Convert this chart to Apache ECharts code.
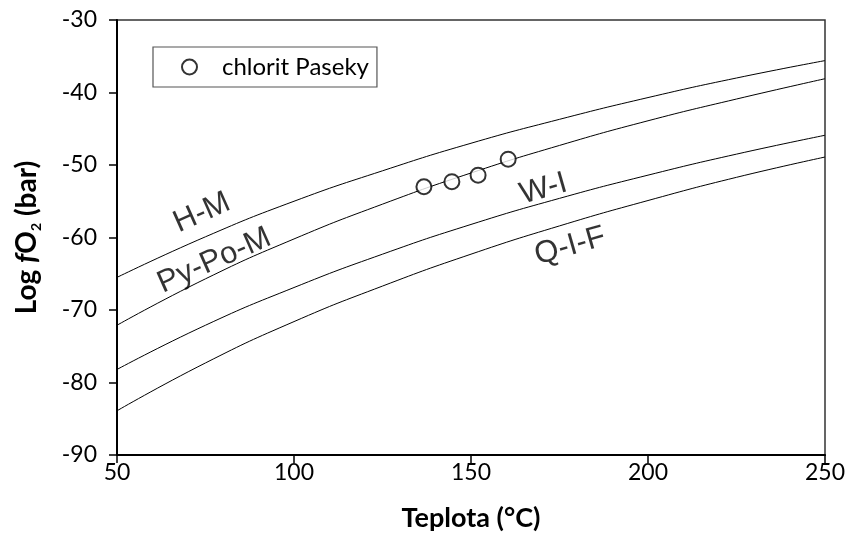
<!DOCTYPE html>
<html>
<head>
<meta charset="utf-8">
<script src="https://cdn.jsdelivr.net/npm/echarts@6/dist/echarts.min.js"></script>
<style>html,body{margin:0;padding:0;background:#fff}#c{width:849px;height:540px}</style>
</head>
<body>
<div id="c"></div>
<script>
var temps = [50, 75, 100, 125, 150, 175, 200, 225, 250];
var hm    = [-65.5, -59.9, -55.0, -50.8, -47.0, -43.7, -40.7, -38.0, -35.6];
var pypom = [-72.1, -65.7, -60.2, -55.4, -51.1, -47.3, -43.9, -40.9, -38.1];
var wi    = [-78.2, -72.1, -66.9, -62.3, -58.2, -54.6, -51.4, -48.5, -45.9];
var qif   = [-83.9, -77.3, -71.6, -66.7, -62.3, -58.4, -54.9, -51.7, -48.9];
var chlT  = [136.7, 144.6, 152.0, 160.5];
var chlF  = [-53.0, -52.3, -51.4, -49.2];
var curveLabels = ['H-M', 'Py-Po-M', 'W-I', 'Q-I-F'];
var labelT = [74, 77.5, 170.5, 178];
var labelF = [-56.6, -63.2, -53.3, -61.2];
var labelRot = [24, 24, 16, 16];
var xTicks = [50, 100, 150, 200, 250];
var yTicks = [-90, -80, -70, -60, -50, -40, -30];

function pairs(xs, ys){ return xs.map(function(x,i){ return [x, ys[i]]; }); }
function curve(name, ys){
  return { name: name, type: 'line', data: pairs(temps, ys), smooth: true, symbol: 'none',
    lineStyle: { color: '#000', width: 1 }, silent: true, z: 2 };
}
var chart = echarts.init(document.getElementById('c'));
chart.setOption({
  animation: false,
  backgroundColor: '#fff',
  grid: { left: 117, right: 24, top: 20, bottom: 85, show: true, borderColor: '#333', borderWidth: 1.5 },
  legend: {
    data: [{ name: 'chlorit Paseky', icon: 'circle' }],
    left: 153, top: 47, orient: 'horizontal',
    borderColor: '#555', borderWidth: 1.2, padding: [8, 8, 8, 28],
    itemWidth: 15, itemHeight: 15, itemGap: 10,
    textStyle: { fontFamily: 'Lato', fontSize: 24, color: '#000', padding: [0,0,0,20] }
  },
  xAxis: {
    type: 'value', min: 50, max: 250, interval: 50,
    name: 'Teplota (°C)', nameLocation: 'middle', nameGap: 50,
    nameTextStyle: { fontFamily: 'Lato', fontWeight: 'bold', fontSize: 27, color: '#000' },
    axisLine: { show: true, onZero: false, lineStyle: { color: '#000', width: 2 } },
    axisTick: { show: true, inside: false, length: 8, lineStyle: { color: '#000', width: 1.5 } },
    axisLabel: { fontFamily: 'Lato', fontSize: 23, color: '#000', margin: 6,
      formatter: function(v){ return xTicks.indexOf(v) >= 0 ? String(v) : ''; } },
    splitLine: { show: false }
  },
  yAxis: {
    type: 'value', min: -90, max: -30, interval: 10,
    name: '{b|Log }{i|f}{b|O}{s|2}{b| (bar)}', nameLocation: 'middle', nameGap: 74, nameRotate: 90,
    nameTextStyle: { rich: {
      b: { fontFamily: 'Lato', fontWeight: 'bold', fontSize: 28, color: '#000', lineHeight: 32 },
      i: { fontFamily: 'Lato', fontWeight: 'bold', fontStyle: 'italic', fontSize: 28, color: '#000', lineHeight: 32 },
      s: { fontFamily: 'Lato', fontWeight: 'bold', fontSize: 14, color: '#000', lineHeight: 32, verticalAlign: 'bottom', padding: [10,0,0,0] }
    } },
    axisLine: { show: true, onZero: false, lineStyle: { color: '#000', width: 2 } },
    axisTick: { show: true, inside: false, length: 8, lineStyle: { color: '#000', width: 1.5 } },
    axisLabel: { fontFamily: 'Lato', fontSize: 23, color: '#000', margin: 20,
      formatter: function(v){ return yTicks.indexOf(v) >= 0 ? String(v) : ''; } },
    splitLine: { show: false }
  },
  series: [
    curve('H-M', hm), curve('Py-Po-M', pypom), curve('W-I', wi), curve('Q-I-F', qif),
    { name: 'chlorit Paseky', type: 'scatter', data: pairs(chlT, chlF), symbol: 'circle', symbolSize: 15,
      itemStyle: { color: '#fff', borderColor: '#000', borderWidth: 2 }, z: 5 },
    { name: 'labels', type: 'scatter', symbolSize: 0, silent: true, z: 6,
      data: curveLabels.map(function(n,i){ return { name: n, value: [labelT[i], labelF[i]],
        label: { show: true, position: 'inside', rotate: labelRot[i], formatter: '{b}',
          fontFamily: 'Liberation Sans', fontSize: 31, color: '#000' } }; }) }
  ]
});
</script>
</body>
</html>
